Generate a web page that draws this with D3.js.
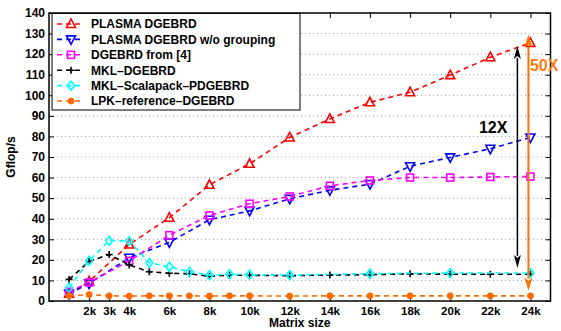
<!DOCTYPE html>
<html><head><meta charset="utf-8">
<script src="https://cdn.jsdelivr.net/npm/d3@7"></script>
<style>body{margin:0;background:#fff}svg{display:block}text{font-family:"Liberation Sans",Arial,sans-serif;font-weight:bold}</style>
</head><body><svg id="c" width="561" height="331"></svg>
<script>
const xTicks = [2000,3000,4000,6000,8000,10000,12000,14000,16000,18000,20000,22000,24000];
const xTickLabels = ["2k","3k","4k","6k","8k","10k","12k","14k","16k","18k","20k","22k","24k"];
const yTicks = [0,10,20,30,40,50,60,70,80,90,100,110,120,130,140];

const sizesAll = [1000,2000,3000,4000,5000,6000,7000,8000,9000,10000,12000,14000,16000,18000,20000,22000,24000];
const sizesMain = [1000,2000,4000,6000,8000,10000,12000,14000,16000,18000,20000,22000,24000];
const sizesScal = [1000,2000,3000,4000,5000,6000,7000,8000,9000,10000,12000,16000,20000,24000];

const plasma = [3.5,9.5,27.5,40.5,56.5,66.7,79.5,88.5,96.6,101.5,109.8,118.5,125.5];
const plasmaNoGroup = [3.5,8.5,21,28.5,39.5,43.8,49.7,53.8,56.8,65.5,69.8,74,79.5];
const dgebrd4 = [4.5,9,19.5,32,41.6,47.3,50.8,56,58.6,60,60,60.3,60.5];
const mkl = [10.5,19.2,22.6,17.5,14.2,13.5,13.2,12,12.5,12.5,12.3,12.6,12.8,13.2,13,13,13];
const scalapack = [6.5,19.6,29.3,29.2,18.6,16.6,14.2,12.6,13,12.8,12.6,13.3,13.6,13.6];
const lapackRef = [2.6,3.1,2.5,2.4,2.5,2.5,2.5,2.4,2.5,2.5,2.4,2.5,2.5,2.5,2.5,2.5,2.5];

const seriesNames = ["PLASMA DGEBRD","PLASMA DGEBRD w/o grouping","DGEBRD from [4]","MKL\u2013DGEBRD","MKL\u2013Scalapack\u2013PDGEBRD","LPK\u2013reference\u2013DGEBRD"];
const seriesColors = ["#ff0000","#0000ff","#ff00ff","#000000","#00ffff","#ff6a00"];
const seriesMarkers = ["tri","trid","square","plus","diamond","circle"];
const seriesX = [sizesMain,sizesMain,sizesMain,sizesAll,sizesScal,sizesAll];
const seriesY = [plasma,plasmaNoGroup,dgebrd4,mkl,scalapack,lapackRef];

// annotations (data coords)
const arrow12 = {x:23350, y0:16, y1:124, label:"12X"};
const arrow50 = {x:23900, y0:5, y1:129.5, label:"50X"};

const svg = d3.select("#c");
const L=49, R=550.5, T=13, B=301;
const x = d3.scaleLinear().domain([0,25000]).range([L,R]);
const y = d3.scaleLinear().domain([0,140]).range([B,T]);

// grid
svg.append("g").selectAll("line").data(yTicks.filter(v=>v>0&&v<140)).join("line")
  .attr("x1",L).attr("x2",R).attr("y1",d=>y(d)).attr("y2",d=>y(d))
  .attr("stroke","#9a9a9a").attr("stroke-width",1).attr("stroke-dasharray","1,3");

// axes
const ax = svg.append("g").attr("transform",`translate(0,${B})`)
  .call(d3.axisBottom(x).tickValues(xTicks).tickFormat((d,i)=>xTickLabels[i]).tickSizeInner(-5).tickSizeOuter(0).tickPadding(6));
const axT = svg.append("g").attr("transform",`translate(0,${T})`)
  .call(d3.axisTop(x).tickValues(xTicks).tickFormat("").tickSizeInner(-5).tickSizeOuter(0));
const ay = svg.append("g").attr("transform",`translate(${L},0)`)
  .call(d3.axisLeft(y).tickValues(yTicks).tickSizeInner(-5).tickSizeOuter(0).tickPadding(4));
const ayR = svg.append("g").attr("transform",`translate(${R},0)`)
  .call(d3.axisRight(y).tickValues(yTicks).tickFormat("").tickSizeInner(-5).tickSizeOuter(0));
[ax,axT,ay,ayR].forEach(g=>{
  g.select(".domain").remove();
  g.selectAll("line").attr("stroke","#000").attr("stroke-width",1);
  g.selectAll("text").attr("font-size",12).attr("font-weight","bold").attr("fill","#000")
   .attr("font-family","'Liberation Sans',Arial,sans-serif");
});
ax.selectAll("text").attr("font-size",11.5);
svg.append("rect").attr("x",L).attr("y",T).attr("width",R-L).attr("height",B-T)
  .attr("fill","none").attr("stroke","#000").attr("stroke-width",1.5);

svg.append("text").attr("x",(L+R)/2).attr("y",327).attr("text-anchor","middle").attr("font-size",12).text("Matrix size");
svg.append("text").attr("transform",`translate(15,${(T+B)/2}) rotate(-90)`).attr("text-anchor","middle").attr("font-size",12).text("Gflop/s");

function marker(g, type, color, cx, cy){
  if(type==="tri"||type==="trid"){
    const s = type==="tri"?1:-1;
    g.append("path").attr("d",`M${cx},${cy-5*s} L${cx+4.5},${cy+3.5*s} L${cx-4.5},${cy+3.5*s} Z`)
      .attr("fill","none").attr("stroke",color).attr("stroke-width",1.6);
  } else if(type==="square"){
    g.append("rect").attr("x",cx-3.5).attr("y",cy-3.5).attr("width",7).attr("height",7)
      .attr("fill","none").attr("stroke",color).attr("stroke-width",1.6);
  } else if(type==="plus"){
    g.append("path").attr("d",`M${cx-3.5},${cy}H${cx+3.5}M${cx},${cy-3.5}V${cy+3.5}`)
      .attr("stroke",color).attr("stroke-width",1.6);
  } else if(type==="diamond"){
    g.append("path").attr("d",`M${cx},${cy-4.5}L${cx+3.5},${cy}L${cx},${cy+4.5}L${cx-3.5},${cy}Z`)
      .attr("fill","none").attr("stroke",color).attr("stroke-width",1.6);
  } else if(type==="circle"){
    g.append("circle").attr("cx",cx).attr("cy",cy).attr("r",3).attr("fill",color).attr("stroke",color);
  }
}

const line = d3.line().x(d=>x(d[0])).y(d=>y(d[1]));
seriesNames.forEach((n,i)=>{
  const pts = seriesX[i].map((v,j)=>[v,seriesY[i][j]]);
  const g = svg.append("g");
  g.append("path").attr("d",line(pts)).attr("fill","none").attr("stroke",seriesColors[i])
    .attr("stroke-width",1.6).attr("stroke-dasharray","5,4");
  pts.forEach(p=>marker(g,seriesMarkers[i],seriesColors[i],x(p[0]),y(p[1])));
});

// arrows
function vArrow(a,color,w,headW,headL){
  const g=svg.append("g");
  const xa=x(a.x), yt=y(a.y1), yb=y(a.y0);
  g.append("line").attr("x1",xa).attr("x2",xa).attr("y1",yt+headL-1).attr("y2",yb-headL+1).attr("stroke",color).attr("stroke-width",w);
  g.append("path").attr("d",`M${xa},${yt}L${xa+headW},${yt+headL}L${xa},${yt+headL-3}L${xa-headW},${yt+headL}Z`).attr("fill",color);
  g.append("path").attr("d",`M${xa},${yb}L${xa+headW},${yb-headL}L${xa},${yb-headL+3}L${xa-headW},${yb-headL}Z`).attr("fill",color);
}
vArrow(arrow12,"#000",1.5,3.5,13);
vArrow(arrow50,"#ff7000",2,4,13);
svg.append("text").attr("x",x(arrow12.x)-10).attr("y",133).attr("text-anchor","end").attr("font-size",16).attr("fill","#000").text(arrow12.label);
svg.append("text").attr("x",x(arrow50.x)+1.5).attr("y",71).attr("font-size",16).attr("fill","#ff7a10").text(arrow50.label);

// legend
const lg = svg.append("g");
lg.append("rect").attr("x",52).attr("y",13.5).attr("width",248).attr("height",96.5)
  .attr("fill","#fff").attr("stroke","#000").attr("stroke-width",1);
seriesNames.forEach((n,i)=>{
  const yy = 24 + i*15.4;
  lg.append("line").attr("x1",57).attr("x2",83).attr("y1",yy).attr("y2",yy)
    .attr("stroke",seriesColors[i]).attr("stroke-width",1.6).attr("stroke-dasharray","5,4");
  marker(lg,seriesMarkers[i],seriesColors[i],71,yy);
  lg.append("text").attr("x",91).attr("y",yy+4.3).attr("font-size",12).attr("fill","#000").text(n);
});
</script></body></html>
